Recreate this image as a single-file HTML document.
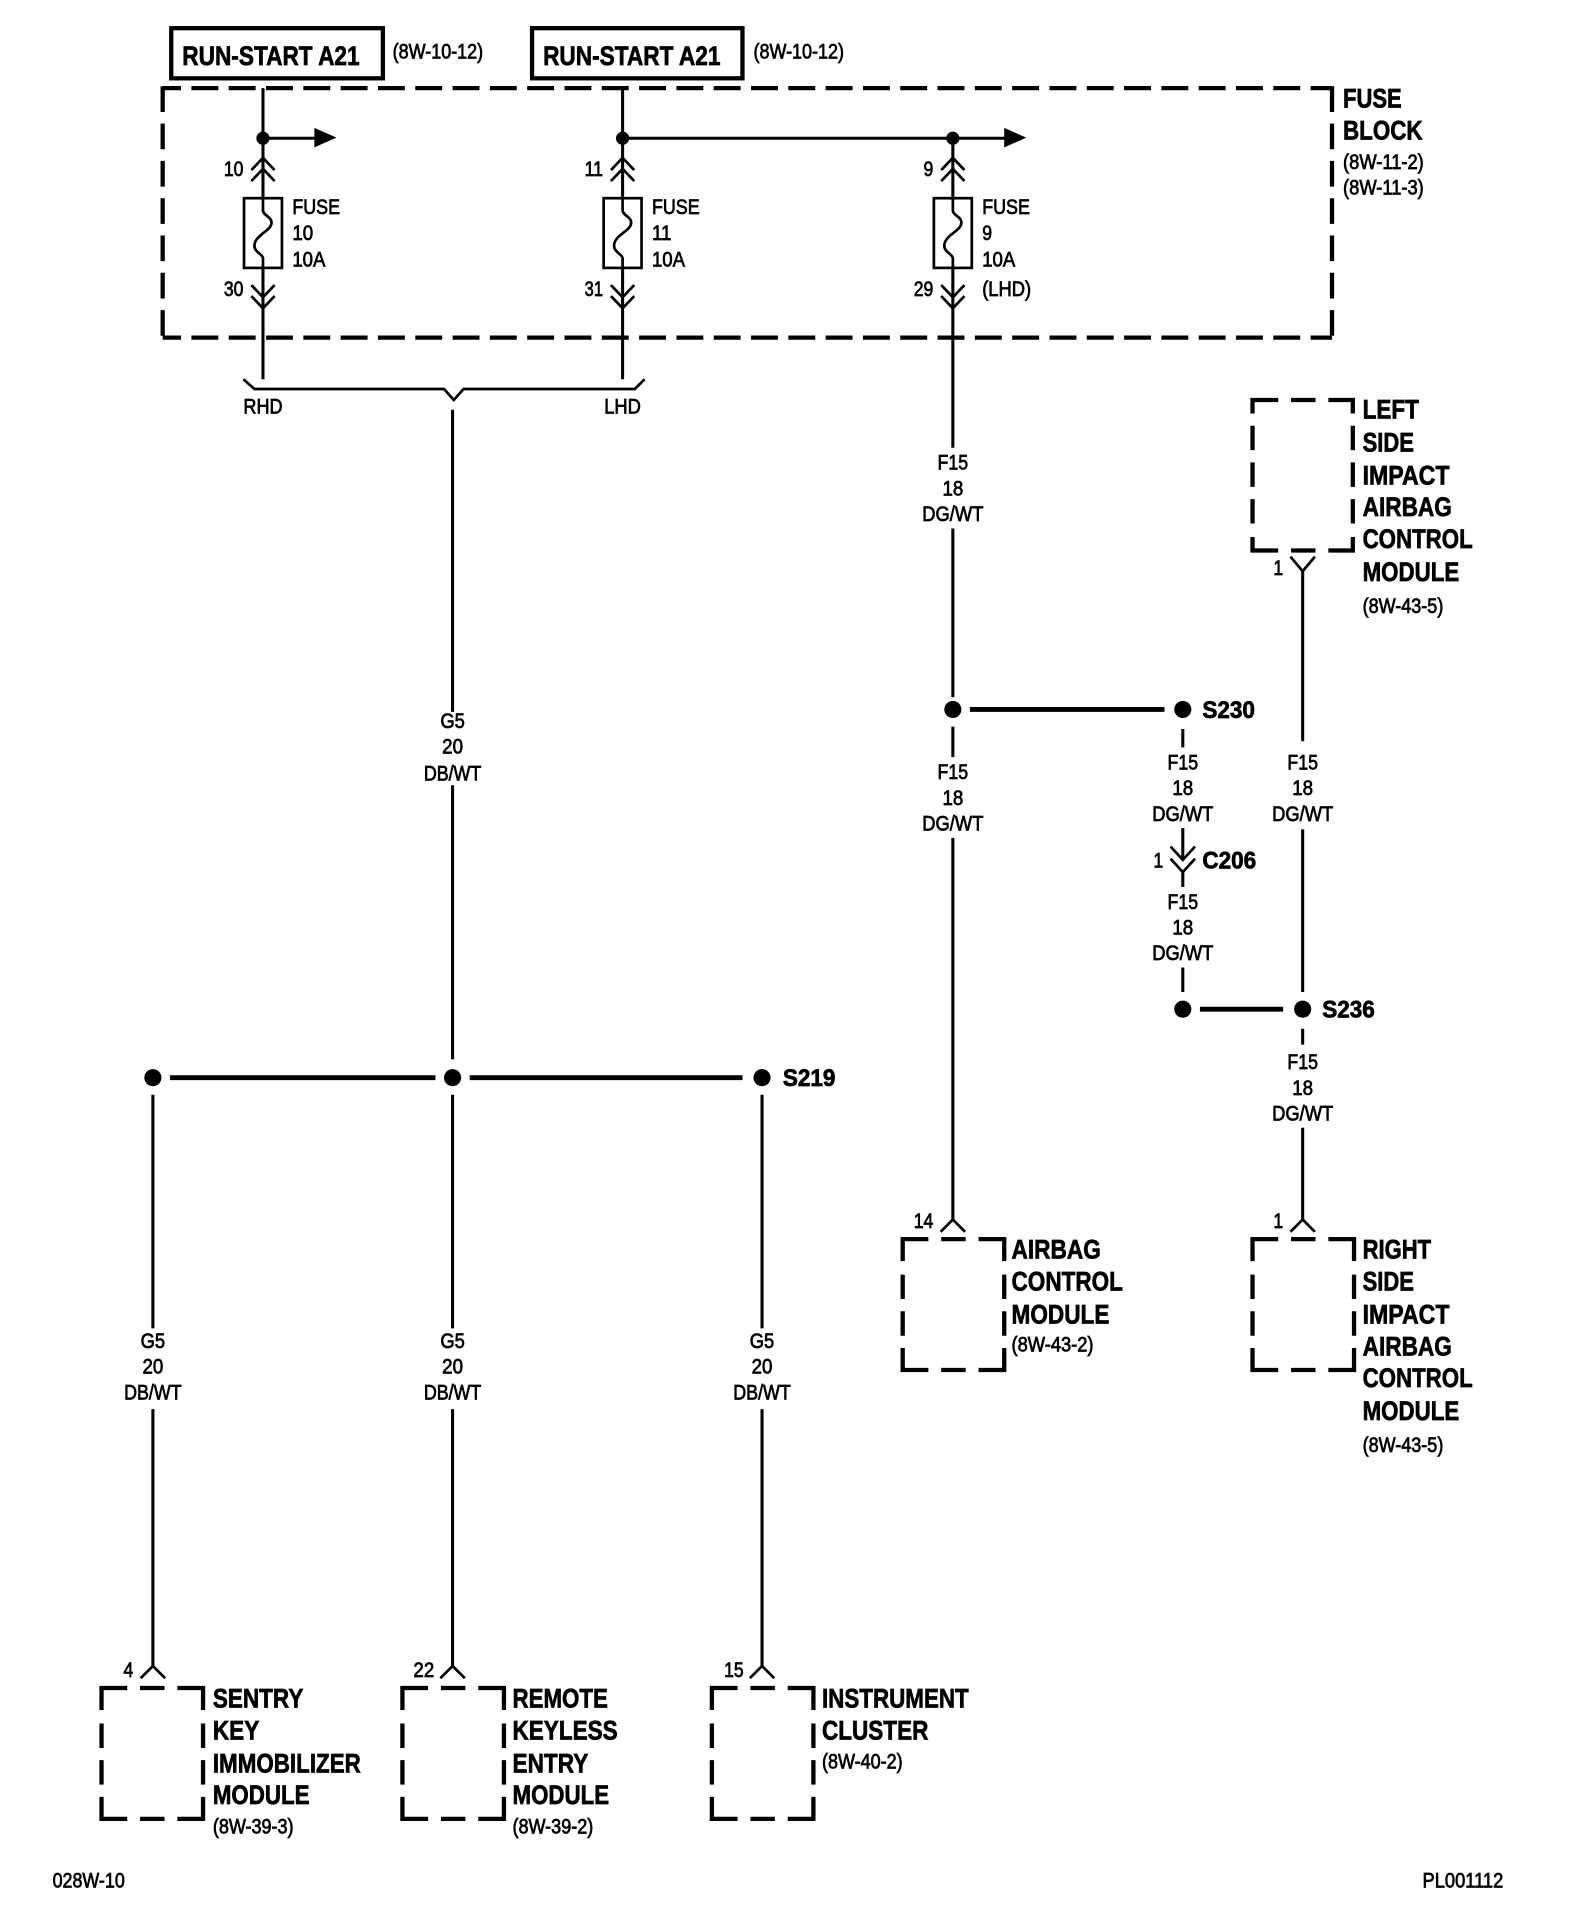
<!DOCTYPE html>
<html><head><meta charset="utf-8"><style>
html,body{margin:0;padding:0;background:#fff}
svg{display:block}
text{font-family:"Liberation Sans",sans-serif;fill:#000}
.b{font-size:22px;font-weight:bold;stroke:#000;stroke-width:.55}
.s{font-size:17px;stroke:#000;stroke-width:.6}
.j{font-size:20px;font-weight:bold;stroke:#000;stroke-width:.6}
.m{text-anchor:middle}
.w{fill:none;stroke:#000;stroke-width:2.5}
.t{fill:none;stroke:#000;stroke-width:4}
.h{fill:none;stroke:#000;stroke-width:2.2}
.d{fill:none;stroke:#000;stroke-width:3.5}
</style></head><body>
<svg xmlns="http://www.w3.org/2000/svg" width="1584" height="1918" viewBox="0 0 1295 1568">
<rect width="1295" height="1568" fill="#fff"/>
<defs>
<g id="up"><path class="h" d="M-9.5 10L0 0L9.5 10M-9.5 19L0 9L9.5 19"/></g>
<g id="dn"><path class="h" d="M-9.5 -19L0 -9L9.5 -19M-9.5 -10L0 0L9.5 -10"/></g>
<g id="fuse"><rect class="h" x="-15.5" y="0" width="31" height="57"/><path class="h" d="M0 0V10C0 14 7 15 7 20C7 27 -7 30 -7 39C-7 44 0 46 0 49V57"/></g>
<g id="pin"><path class="h" d="M-10 10L0 0L10 10"/></g>
<g id="mod"><path class="d" d="M0 18V0H21M31.5 0H51.5M62 0H83V18M0 29V49M83 29V49M0 59V79M83 59V79M0 89V107H21M31.5 107H51.5M62 107H83V89"/></g>
</defs>

<rect x="140" y="23" width="173" height="41" fill="none" stroke="#000" stroke-width="3.5"/>
<rect x="435" y="23" width="172" height="41" fill="none" stroke="#000" stroke-width="3.5"/>
<text class="b" x="149" y="53" textLength="145" lengthAdjust="spacingAndGlyphs">RUN-START A21</text>
<text class="b" x="444" y="53" textLength="145" lengthAdjust="spacingAndGlyphs">RUN-START A21</text>
<text class="s" x="321" y="48" textLength="74" lengthAdjust="spacingAndGlyphs">(8W-10-12)</text>
<text class="s" x="616" y="48" textLength="74" lengthAdjust="spacingAndGlyphs">(8W-10-12)</text>

<!-- fuse block dashed -->
<path class="d" stroke-dasharray="22 8.5" stroke-dashoffset="7" d="M133 72H1089"/>
<path class="d" stroke-dasharray="22 8.5" stroke-dashoffset="7" d="M133 276H1089"/>
<path class="d" stroke-dasharray="21 9.5" d="M133 70.5V277.5"/>
<path class="d" stroke-dasharray="21 9.5" d="M1089 70.5V277.5"/>

<!-- fused wires -->
<path class="w" d="M215 72V162M215 219V310M509 72V162M509 219V310M779 113V162M779 219V366"/>
<path class="w" d="M215 113H258M509 113H822"/>
<path d="M257 104.5L275 112.5L257 120.5Z M821 104.5L839 112.5L821 120.5Z"/>
<circle cx="215" cy="113" r="5.4"/><circle cx="509" cy="113" r="5.4"/><circle cx="779" cy="113" r="5.4"/>
<use href="#up" x="215" y="129"/><use href="#up" x="509" y="129"/><use href="#up" x="779" y="129"/>
<use href="#fuse" x="215" y="162"/><use href="#fuse" x="509" y="162"/><use href="#fuse" x="779" y="162"/>
<use href="#dn" x="215" y="252"/><use href="#dn" x="509" y="252"/><use href="#dn" x="779" y="252"/>
<text class="s" x="183" y="144" textLength="16" lengthAdjust="spacingAndGlyphs">10</text>
<text class="s" x="183" y="242" textLength="16" lengthAdjust="spacingAndGlyphs">30</text>
<text class="s" x="478" y="144" textLength="15" lengthAdjust="spacingAndGlyphs">11</text>
<text class="s" x="478" y="242" textLength="15" lengthAdjust="spacingAndGlyphs">31</text>
<text class="s" x="755" y="144" textLength="8" lengthAdjust="spacingAndGlyphs">9</text>
<text class="s" x="747" y="242" textLength="16" lengthAdjust="spacingAndGlyphs">29</text>
<text class="s" x="239" y="175" textLength="39" lengthAdjust="spacingAndGlyphs">FUSE</text>
<text class="s" x="239" y="196" textLength="17" lengthAdjust="spacingAndGlyphs">10</text>
<text class="s" x="239" y="218" textLength="27" lengthAdjust="spacingAndGlyphs">10A</text>
<text class="s" x="533" y="175" textLength="39" lengthAdjust="spacingAndGlyphs">FUSE</text>
<text class="s" x="533" y="196" textLength="16" lengthAdjust="spacingAndGlyphs">11</text>
<text class="s" x="533" y="218" textLength="27" lengthAdjust="spacingAndGlyphs">10A</text>
<text class="s" x="803" y="175" textLength="39" lengthAdjust="spacingAndGlyphs">FUSE</text>
<text class="s" x="803" y="196" textLength="8" lengthAdjust="spacingAndGlyphs">9</text>
<text class="s" x="803" y="218" textLength="27" lengthAdjust="spacingAndGlyphs">10A</text>
<text class="s" x="803" y="242" textLength="40" lengthAdjust="spacingAndGlyphs">(LHD)</text>
<text class="b" x="1098" y="88" textLength="48" lengthAdjust="spacingAndGlyphs">FUSE</text>
<text class="b" x="1098" y="114" textLength="65" lengthAdjust="spacingAndGlyphs">BLOCK</text>
<text class="s" x="1098" y="138" textLength="66" lengthAdjust="spacingAndGlyphs">(8W-11-2)</text>
<text class="s" x="1098" y="159" textLength="66" lengthAdjust="spacingAndGlyphs">(8W-11-3)</text>

<!-- bracket -->
<path class="h" d="M199 310L208 318H363L371 327L379 318H519L527 310"/>
<text class="s m" x="215" y="338" textLength="32" lengthAdjust="spacingAndGlyphs">RHD</text>
<text class="s m" x="509" y="338" textLength="30" lengthAdjust="spacingAndGlyphs">LHD</text>

<!-- G5 trunk -->
<path class="w" d="M370 335V582M370 642V866"/>
<text class="s m" x="370" y="595" textLength="20" lengthAdjust="spacingAndGlyphs">G5</text>
<text class="s m" x="370" y="616" textLength="17" lengthAdjust="spacingAndGlyphs">20</text>
<text class="s m" x="370" y="638" textLength="47" lengthAdjust="spacingAndGlyphs">DB/WT</text>

<!-- S219 -->
<path class="t" d="M139 881H356M384 881H607"/>
<circle cx="125" cy="881" r="7"/><circle cx="370" cy="881" r="7"/><circle cx="623" cy="881" r="7"/>
<text class="j" x="640" y="888" textLength="43" lengthAdjust="spacingAndGlyphs">S219</text>
<path class="w" d="M125 895V1086M125 1152V1362M370 895V1086M370 1152V1362M623 895V1086M623 1152V1362"/>
<text class="s m" x="125" y="1102" textLength="20" lengthAdjust="spacingAndGlyphs">G5</text>
<text class="s m" x="125" y="1123" textLength="17" lengthAdjust="spacingAndGlyphs">20</text>
<text class="s m" x="125" y="1144" textLength="47" lengthAdjust="spacingAndGlyphs">DB/WT</text>
<text class="s m" x="370" y="1102" textLength="20" lengthAdjust="spacingAndGlyphs">G5</text>
<text class="s m" x="370" y="1123" textLength="17" lengthAdjust="spacingAndGlyphs">20</text>
<text class="s m" x="370" y="1144" textLength="47" lengthAdjust="spacingAndGlyphs">DB/WT</text>
<text class="s m" x="623" y="1102" textLength="20" lengthAdjust="spacingAndGlyphs">G5</text>
<text class="s m" x="623" y="1123" textLength="17" lengthAdjust="spacingAndGlyphs">20</text>
<text class="s m" x="623" y="1144" textLength="47" lengthAdjust="spacingAndGlyphs">DB/WT</text>

<!-- bottom modules -->
<use href="#pin" x="125" y="1362"/><use href="#pin" x="370" y="1362"/><use href="#pin" x="623" y="1362"/>
<use href="#mod" x="83" y="1380"/><use href="#mod" x="329" y="1380"/><use href="#mod" x="582" y="1380"/>
<text class="s" x="101" y="1371" textLength="8" lengthAdjust="spacingAndGlyphs">4</text>
<text class="s" x="338" y="1371" textLength="17" lengthAdjust="spacingAndGlyphs">22</text>
<text class="s" x="592" y="1371" textLength="16" lengthAdjust="spacingAndGlyphs">15</text>
<text class="b" x="174" y="1396" textLength="74" lengthAdjust="spacingAndGlyphs">SENTRY</text>
<text class="b" x="174" y="1422" textLength="38" lengthAdjust="spacingAndGlyphs">KEY</text>
<text class="b" x="174" y="1449" textLength="121" lengthAdjust="spacingAndGlyphs">IMMOBILIZER</text>
<text class="b" x="174" y="1475" textLength="79" lengthAdjust="spacingAndGlyphs">MODULE</text>
<text class="s" x="174" y="1499" textLength="66" lengthAdjust="spacingAndGlyphs">(8W-39-3)</text>
<text class="b" x="419" y="1396" textLength="78" lengthAdjust="spacingAndGlyphs">REMOTE</text>
<text class="b" x="419" y="1422" textLength="86" lengthAdjust="spacingAndGlyphs">KEYLESS</text>
<text class="b" x="419" y="1449" textLength="62" lengthAdjust="spacingAndGlyphs">ENTRY</text>
<text class="b" x="419" y="1475" textLength="79" lengthAdjust="spacingAndGlyphs">MODULE</text>
<text class="s" x="419" y="1499" textLength="66" lengthAdjust="spacingAndGlyphs">(8W-39-2)</text>
<text class="b" x="672" y="1396" textLength="120" lengthAdjust="spacingAndGlyphs">INSTRUMENT</text>
<text class="b" x="672" y="1422" textLength="87" lengthAdjust="spacingAndGlyphs">CLUSTER</text>
<text class="s" x="672" y="1446" textLength="66" lengthAdjust="spacingAndGlyphs">(8W-40-2)</text>

<!-- F15 centre -->
<text class="s m" x="779" y="384" textLength="25" lengthAdjust="spacingAndGlyphs">F15</text>
<text class="s m" x="779" y="405" textLength="17" lengthAdjust="spacingAndGlyphs">18</text>
<text class="s m" x="779" y="426" textLength="50" lengthAdjust="spacingAndGlyphs">DG/WT</text>
<path class="w" d="M779 432V570M779 594V619M779 685V997"/>
<circle cx="779" cy="580" r="7"/><circle cx="967" cy="580" r="7"/>
<path class="t" d="M793 580H952"/>
<text class="j" x="983" y="587" textLength="43" lengthAdjust="spacingAndGlyphs">S230</text>
<text class="s m" x="779" y="637" textLength="25" lengthAdjust="spacingAndGlyphs">F15</text>
<text class="s m" x="779" y="658" textLength="17" lengthAdjust="spacingAndGlyphs">18</text>
<text class="s m" x="779" y="679" textLength="50" lengthAdjust="spacingAndGlyphs">DG/WT</text>
<use href="#pin" x="779" y="997"/>
<use href="#mod" x="738" y="1013"/>
<text class="s" x="747" y="1004" textLength="16" lengthAdjust="spacingAndGlyphs">14</text>
<text class="b" x="827" y="1029" textLength="73" lengthAdjust="spacingAndGlyphs">AIRBAG</text>
<text class="b" x="827" y="1055" textLength="91" lengthAdjust="spacingAndGlyphs">CONTROL</text>
<text class="b" x="827" y="1082" textLength="80" lengthAdjust="spacingAndGlyphs">MODULE</text>
<text class="s" x="827" y="1105" textLength="67" lengthAdjust="spacingAndGlyphs">(8W-43-2)</text>

<!-- S230 branch -->
<path class="w" d="M967 596V611M967 677V703M967 713V725M967 791V811"/>
<path class="h" d="M957 692L967 703L977 692M957 702L967 713L977 702"/>
<text class="s m" x="967" y="629" textLength="25" lengthAdjust="spacingAndGlyphs">F15</text>
<text class="s m" x="967" y="650" textLength="17" lengthAdjust="spacingAndGlyphs">18</text>
<text class="s m" x="967" y="671" textLength="50" lengthAdjust="spacingAndGlyphs">DG/WT</text>
<text class="s" x="943" y="709" textLength="8" lengthAdjust="spacingAndGlyphs">1</text>
<text class="j" x="983" y="710" textLength="44" lengthAdjust="spacingAndGlyphs">C206</text>
<text class="s m" x="967" y="743" textLength="25" lengthAdjust="spacingAndGlyphs">F15</text>
<text class="s m" x="967" y="764" textLength="17" lengthAdjust="spacingAndGlyphs">18</text>
<text class="s m" x="967" y="785" textLength="50" lengthAdjust="spacingAndGlyphs">DG/WT</text>
<circle cx="967" cy="825" r="7"/><circle cx="1065" cy="825" r="7"/>
<path class="t" d="M981 825H1049"/>
<text class="j" x="1081" y="832" textLength="43" lengthAdjust="spacingAndGlyphs">S236</text>

<!-- right column -->
<use href="#mod" x="1024" y="1013"/>
<path class="d" d="M1024 338V327H1045M1055.5 327H1075.5M1086 327H1106V338M1024 348V368M1106 348V368M1024 378V398M1106 378V398M1024 408V428M1106 408V428M1024 439V450H1045M1055.5 450H1075.5M1086 450H1106V439"/>
<path class="h" d="M1055 455L1065 467L1075 455"/>
<path class="w" d="M1065 466V606M1065 678V811M1065 841V854M1065 922V997"/>
<use href="#pin" x="1065" y="997"/>
<text class="s" x="1041" y="470" textLength="8" lengthAdjust="spacingAndGlyphs">1</text>
<text class="s" x="1041" y="1004" textLength="8" lengthAdjust="spacingAndGlyphs">1</text>
<text class="s m" x="1065" y="629" textLength="25" lengthAdjust="spacingAndGlyphs">F15</text>
<text class="s m" x="1065" y="650" textLength="17" lengthAdjust="spacingAndGlyphs">18</text>
<text class="s m" x="1065" y="671" textLength="50" lengthAdjust="spacingAndGlyphs">DG/WT</text>
<text class="s m" x="1065" y="874" textLength="25" lengthAdjust="spacingAndGlyphs">F15</text>
<text class="s m" x="1065" y="895" textLength="17" lengthAdjust="spacingAndGlyphs">18</text>
<text class="s m" x="1065" y="916" textLength="50" lengthAdjust="spacingAndGlyphs">DG/WT</text>
<text class="b" x="1114" y="342" textLength="46" lengthAdjust="spacingAndGlyphs">LEFT</text>
<text class="b" x="1114" y="369" textLength="42" lengthAdjust="spacingAndGlyphs">SIDE</text>
<text class="b" x="1114" y="396" textLength="71" lengthAdjust="spacingAndGlyphs">IMPACT</text>
<text class="b" x="1114" y="422" textLength="73" lengthAdjust="spacingAndGlyphs">AIRBAG</text>
<text class="b" x="1114" y="448" textLength="90" lengthAdjust="spacingAndGlyphs">CONTROL</text>
<text class="b" x="1114" y="475" textLength="79" lengthAdjust="spacingAndGlyphs">MODULE</text>
<text class="s" x="1114" y="501" textLength="66" lengthAdjust="spacingAndGlyphs">(8W-43-5)</text>
<text class="b" x="1114" y="1029" textLength="56" lengthAdjust="spacingAndGlyphs">RIGHT</text>
<text class="b" x="1114" y="1055" textLength="42" lengthAdjust="spacingAndGlyphs">SIDE</text>
<text class="b" x="1114" y="1082" textLength="71" lengthAdjust="spacingAndGlyphs">IMPACT</text>
<text class="b" x="1114" y="1108" textLength="73" lengthAdjust="spacingAndGlyphs">AIRBAG</text>
<text class="b" x="1114" y="1134" textLength="90" lengthAdjust="spacingAndGlyphs">CONTROL</text>
<text class="b" x="1114" y="1161" textLength="79" lengthAdjust="spacingAndGlyphs">MODULE</text>
<text class="s" x="1114" y="1187" textLength="66" lengthAdjust="spacingAndGlyphs">(8W-43-5)</text>

<text class="s" x="43" y="1543" textLength="59" lengthAdjust="spacingAndGlyphs">028W-10</text>
<text class="s" x="1163" y="1543" textLength="66" lengthAdjust="spacingAndGlyphs">PL001112</text>
</svg>
</body></html>
